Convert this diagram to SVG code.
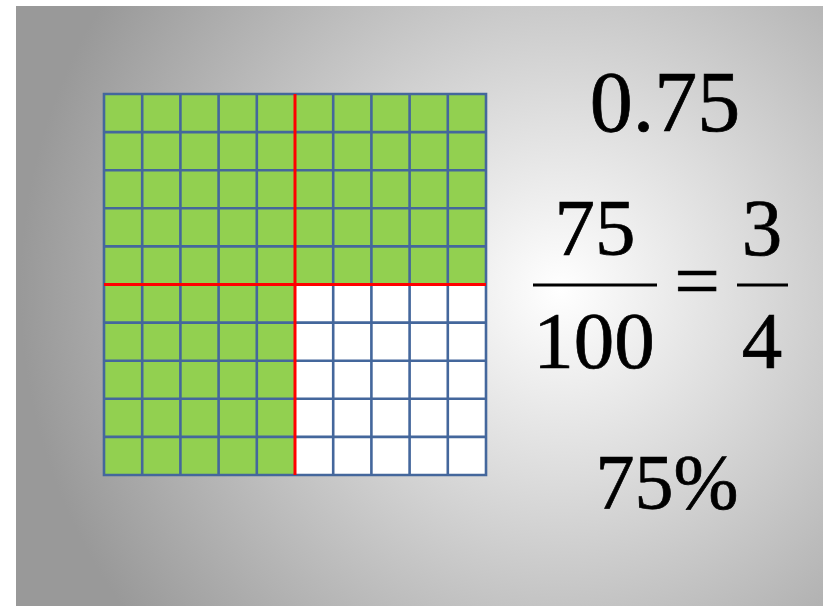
<svg xmlns="http://www.w3.org/2000/svg" width="831" height="606" viewBox="0 0 831 606">
<defs>
<radialGradient id="bg" gradientUnits="userSpaceOnUse" cx="560" cy="290" r="540">
<stop offset="0" stop-color="#ffffff"/>
<stop offset="0.35" stop-color="#dcdcdc"/>
<stop offset="1" stop-color="#999999"/>
</radialGradient>
<style>
.num{font-family:"Liberation Serif","Times New Roman",serif;fill:#000;stroke:#000;stroke-width:0.7;text-anchor:middle}
.grid{stroke:#44679c;stroke-width:2.6;fill:none}
.red{stroke:#ff0000;stroke-width:3}
.bar{stroke:#000;stroke-width:3.2}
</style>
</defs>
<rect x="0" y="0" width="831" height="606" fill="#ffffff"/>
<rect x="16" y="6" width="807" height="600" fill="url(#bg)"/>
<g id="grid">
<rect x="104" y="94" width="382" height="381" fill="#92d050"/>
<rect x="295" y="284.5" width="191" height="190.5" fill="#ffffff"/>
<path class="grid" d="M104 94H486V475H104Z M142.2 94V475 M180.4 94V475 M218.6 94V475 M256.8 94V475 M333.2 94V475 M371.4 94V475 M409.6 94V475 M447.8 94V475 M104 132.1H486 M104 170.2H486 M104 208.3H486 M104 246.4H486 M104 322.6H486 M104 360.7H486 M104 398.8H486 M104 436.9H486"/>
<line class="red" x1="104" y1="284.5" x2="486" y2="284.5"/>
<line class="red" x1="295" y1="94" x2="295" y2="475"/>
</g>
<g id="decimal"><text class="num" x="665" y="131" font-size="86">0.75</text></g>
<g id="fraction">
<text class="num" x="595" y="255" font-size="81">75</text>
<line class="bar" x1="533" y1="285" x2="657" y2="285"/>
<text class="num" x="594" y="368" font-size="81">100</text>
<text class="num" x="697" y="308" font-size="81">=</text>
<text class="num" x="762" y="255" font-size="81">3</text>
<line class="bar" x1="737" y1="285" x2="788" y2="285"/>
<text class="num" x="762" y="368" font-size="81">4</text>
</g>
<g id="percent"><text class="num" x="667" y="508" font-size="78">75%</text></g>
</svg>
